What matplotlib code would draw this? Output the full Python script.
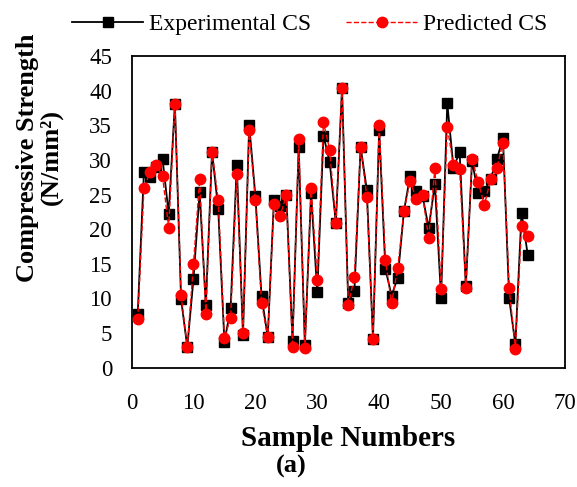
import matplotlib
matplotlib.use("Agg")
import matplotlib.pyplot as plt
import numpy as np

plt.rcParams["font.family"] = ["Liberation Serif", "DejaVu Serif"]

# --- data ---
samples = np.arange(1, 65)
experimental = [
    7.8, 28.3, 27.6, 29.0, 30.2, 22.2, 38.1, 9.9, 3.0, 12.8,
    25.3, 9.0, 31.2, 22.9, 3.7, 8.6, 29.2, 4.7, 35.1, 24.8,
    10.3, 4.4, 24.2, 23.3, 25.0, 3.9, 31.8, 3.3, 25.2, 10.9,
    33.5, 29.7, 20.9, 40.4, 9.4, 11.1, 31.9, 25.7, 4.2, 34.3,
    14.3, 10.4, 13.0, 22.6, 27.7, 25.5, 24.8, 20.2, 26.5, 10.1,
    38.2, 28.9, 31.1, 11.8, 29.8, 25.2, 25.5, 27.2, 30.1, 33.1,
    10.0, 3.4, 22.4, 16.3,
]
predicted = [
    7.0, 25.9, 28.3, 29.2, 27.7, 20.2, 38.1, 10.5, 3.0, 14.9,
    27.2, 7.7, 31.2, 24.2, 4.3, 7.2, 27.9, 5.0, 34.3, 24.2,
    9.3, 4.5, 23.6, 21.9, 24.9, 3.0, 33.0, 2.8, 26.0, 12.7,
    35.4, 31.5, 20.9, 40.4, 9.0, 13.1, 31.9, 24.7, 4.2, 35.1,
    15.6, 9.3, 14.4, 22.6, 27.0, 24.3, 25.0, 18.7, 28.8, 11.4,
    34.8, 29.2, 28.7, 11.5, 30.2, 26.8, 23.5, 27.2, 28.8, 32.5,
    11.5, 2.7, 20.5, 19.0,
]
x_ticks = np.arange(0, 71, 10)
y_ticks = np.arange(0, 46, 5)

fig = plt.figure(figsize=(5.77, 4.87), dpi=100)
ax = fig.add_axes([0.228, 0.245, 0.751, 0.640])

ax.plot(samples, experimental, color="black", linewidth=1.3, marker="s",
        markersize=6.5, label="Experimental CS", zorder=3)
ax.plot(samples, predicted, color="red", linewidth=1.0, linestyle="--",
        marker="o", markersize=7.5, label="Predicted CS", zorder=4)

ax.set_xlim(0, 70)
ax.set_ylim(0, 45)
ax.set_xticks(x_ticks)
ax.set_yticks(y_ticks)
ax.tick_params(length=0, labelsize=16.5)
ax.tick_params(axis="y", pad=14)
ax.tick_params(axis="x", pad=18)
for sp in ax.spines.values():
    sp.set_linewidth(1.3)

ax.set_xlabel("Sample Numbers", fontsize=21, fontweight="bold", labelpad=8)
fig.text(0.068, 0.677, "Compressive Strength\n(N/mm²)", rotation=90,
         ha="center", va="center", multialignment="center",
         fontsize=19, fontweight="bold", linespacing=1.0)
fig.text(0.505, 0.042, "(a)", ha="center", va="center",
         fontsize=19, fontweight="bold")

fig.legend(loc="center", bbox_to_anchor=(0.537, 0.95), ncol=2, frameon=False,
           fontsize=17, handlelength=3.0, columnspacing=1.5, handletextpad=0.25)

fig.savefig("out.png", dpi=100)
